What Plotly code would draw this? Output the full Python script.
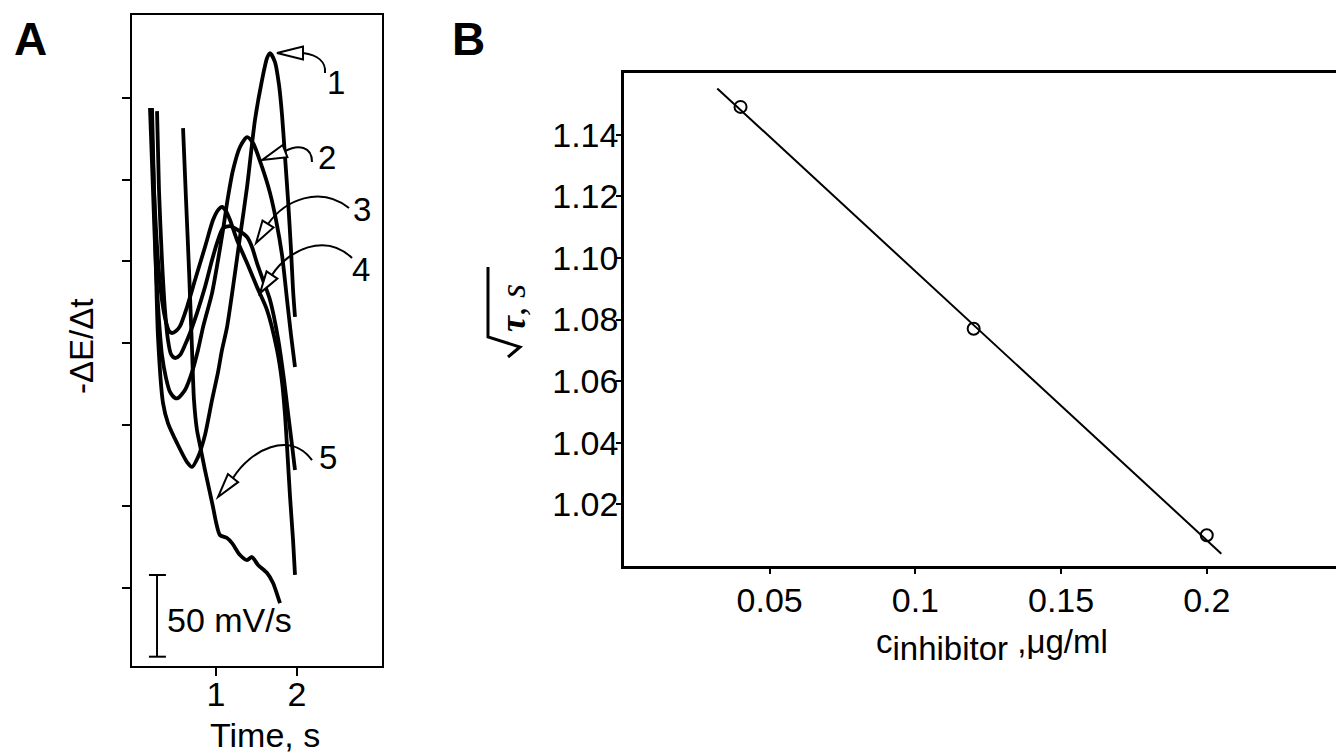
import math
import plotly.graph_objects as go

# page body has an 8px default margin: draw a slightly smaller figure and shift all positions
OFF = 8
FW, FH = 1344 - OFF, 753 - OFF

# ---------------- data ----------------
# Panel A: derivative chronopotentiograms, time (s) vs -dE/dt (mV/s)
curve1_t = [0.21, 0.235, 0.259, 0.284, 0.346, 0.407, 0.519, 0.642, 0.704, 0.778, 0.864, 0.951, 1.025, 1.074,
            1.136, 1.21, 1.296, 1.383, 1.481, 1.568, 1.630, 1.667, 1.728, 1.778, 1.815, 1.852, 1.889, 1.926,
            1.951, 1.975]
curve1_v = [293.8, 243.6, 194.6, 153.6, 113.2, 101.0, 88.7, 77.1, 74.1, 80.2, 93.6, 115.1, 132.2, 145.7,
            159.7, 184.2, 214.8, 245.4, 286.4, 310.9, 324.4, 327.4, 321.9, 307.8, 289.5, 263.8, 237.5, 206.9,
            182.4, 165.9]

curve2_t = [0.185, 0.222, 0.259, 0.296, 0.333, 0.383, 0.432, 0.494, 0.531, 0.617, 0.704, 0.778, 0.840, 0.951,
            1.025, 1.086, 1.148, 1.21, 1.296, 1.383, 1.457, 1.568, 1.667, 1.741, 1.815, 1.877, 1.926, 1.975]
curve2_v = [293.8, 243.6, 194.6, 164.0, 142.6, 128.5, 120.0, 116.3, 116.3, 121.2, 132.2, 145.7, 159.7, 180.5,
            200.7, 219.0, 239.3, 255.8, 269.9, 276.0, 272.3, 257.7, 241.7, 225.2, 203.8, 176.3, 154.8, 135.3]

curve3_t = [0.198, 0.235, 0.284, 0.333, 0.383, 0.420, 0.457, 0.506, 0.556, 0.642, 0.741, 0.864, 0.963, 1.025,
            1.074, 1.123, 1.173, 1.259, 1.383, 1.506, 1.630, 1.753, 1.815, 1.852, 1.877, 1.914, 1.951, 1.975]
curve3_v = [293.1, 243.6, 200.7, 176.3, 162.8, 157.3, 156.1, 157.3, 160.3, 172.0, 188.5, 208.7, 225.2, 231.3,
            233.2, 230.7, 225.2, 213.0, 198.9, 184.2, 170.1, 145.7, 126.1, 105.9, 86.3, 55.7, 29.4, 8.0]

curve4_t = [0.272, 0.296, 0.333, 0.370, 0.407, 0.444, 0.494, 0.556, 0.617, 0.679, 0.765, 0.864, 0.951, 1.012,
            1.086, 1.173, 1.272, 1.383, 1.444, 1.506, 1.580, 1.667, 1.765, 1.840, 1.889, 1.938, 1.975]
curve4_v = [291.9, 243.6, 200.7, 170.1, 151.8, 143.2, 140.8, 142.6, 148.7, 156.1, 168.3, 184.2, 200.7, 211.1,
            220.3, 221.5, 219.0, 214.8, 208.7, 198.9, 188.5, 176.3, 153.0, 127.3, 107.1, 87.5, 72.2]

curve5_t = [0.593, 0.630, 0.667, 0.704, 0.728, 0.765, 0.802, 0.864, 0.963, 1.00, 1.049, 1.136, 1.198, 1.296,
            1.383, 1.444, 1.519, 1.630, 1.704, 1.765, 1.790]
curve5_v = [281.5, 237.5, 194.6, 145.7, 115.1, 96.7, 87.5, 72.2, 49.6, 40.4, 32.4, 30.6, 27.5, 20.2,
            17.1, 19.0, 14.1, 9.2, 3.1, -5.5, -9.2]

curves_t = [curve1_t, curve2_t, curve3_t, curve4_t, curve5_t]
curves_v = [curve1_v, curve2_v, curve3_v, curve4_v, curve5_v]
curve_labels = ["1", "2", "3", "4", "5"]

# Panel B: sqrt(tau) vs inhibitor concentration
c_inhibitor = [0.04, 0.12, 0.20]
sqrt_tau = [1.149, 1.077, 1.010]
fit_c = [0.032, 0.205]
fit_sqrt_tau = [1.155, 1.004]

# Ticks
a_xticks = [1, 2]
a_xticktext = ["1", "2"]
a_yticks = [0, 50, 100, 150, 200, 250, 300]
b_xticks = [0.05, 0.1, 0.15, 0.2]
b_xticktext = ["0.05", "0.1", "0.15", "0.2"]
b_yticks = [1.02, 1.04, 1.06, 1.08, 1.10, 1.12, 1.14]
b_yticktext = ["1.02", "1.04", "1.06", "1.08", "1.10", "1.12", "1.14"]

# Curve-number labels and their curved arrows (panel A data coords)
label_pos = [(2.481, 309.1), (2.370, 263.2), (2.802, 231.9), (2.790, 195.2), (2.383, 79.6)]
# each: tip, base centre of head, control 1, control 2, end (near label)
arrows = [
    [(1.753, 327.4), (2.074, 327.4), (2.259, 326.2), (2.358, 321.9), (2.346, 315.2)],
    [(1.568, 261.9), (1.852, 267.4), (2.012, 271.7), (2.185, 270.5), (2.185, 260.7)],
    [(1.494, 211.1), (1.642, 222.8), (1.852, 237.5), (2.284, 246.6), (2.642, 232.6)],
    [(1.543, 180.5), (1.691, 191.6), (1.889, 206.9), (2.346, 217.9), (2.679, 202.0)],
    [(1.025, 55.7), (1.210, 67.3), (1.420, 84.5), (1.914, 96.7), (2.185, 78.3)],
]
scale_bar = {"t": 0.272, "v0": -42.0, "len": 50.0, "label": "50 mV/s"}


# ---------------- geometry (reference pixel positions -> paper) ----------------
def fx(px):
    return (px - OFF) / FW


def fy(py):
    return 1 - (py - OFF) / FH


A_X = [fx(132), fx(382)]
A_Y = [fy(666), fy(15)]
A_XR = [-0.037, 3.049]
A_YR = [-47.7, 350.7]
B_X = [fx(624), 1.0]
B_Y = [fy(566), fy(73)]
B_XR = [0.0, 0.2471]
B_YR = [1.0, 1.16]

FONT = "Liberation Sans, Arial, sans-serif"


def a_px(t, v):
    x0, x1 = 132, 382
    ytop, ybot = 15, 666
    px = x0 + (t - A_XR[0]) / (A_XR[1] - A_XR[0]) * (x1 - x0)
    py = ybot - (v - A_YR[0]) / (A_YR[1] - A_YR[0]) * (ybot - ytop)
    return px, py


def paper(px, py):
    return fx(px), fy(py)


fig = go.Figure()

for t, v in zip(curves_t, curves_v):
    fig.add_trace(go.Scatter(x=t, y=v, mode="lines", xaxis="x", yaxis="y",
                             line=dict(color="black", width=3.8, shape="spline", smoothing=0.7),
                             showlegend=False, hoverinfo="skip"))

fig.add_trace(go.Scatter(x=fit_c, y=fit_sqrt_tau, mode="lines", xaxis="x2", yaxis="y2",
                         line=dict(color="black", width=2), showlegend=False))
fig.add_trace(go.Scatter(x=c_inhibitor, y=sqrt_tau, mode="markers", xaxis="x2", yaxis="y2",
                         marker=dict(symbol="circle-open", size=12, color="black", line=dict(width=2)),
                         showlegend=False))

shapes = []
annotations = []

# curved arrows with open heads
for (tip, base, c1, c2, end) in arrows:
    T = a_px(*tip)
    B = a_px(*base)
    C1 = a_px(*c1)
    C2 = a_px(*c2)
    E = a_px(*end)
    dx, dy = B[0] - T[0], B[1] - T[1]
    L = math.hypot(dx, dy)
    ux, uy = dx / L, dy / L
    hw = 6.5
    P1 = (B[0] - uy * hw, B[1] + ux * hw)
    P2 = (B[0] + uy * hw, B[1] - ux * hw)
    pts = [paper(*p) for p in (B, C1, C2, E)]
    shapes.append(dict(type="path", xref="paper", yref="paper",
                       path="M {:.5f},{:.5f} C {:.5f},{:.5f} {:.5f},{:.5f} {:.5f},{:.5f}".format(
                           pts[0][0], pts[0][1], pts[1][0], pts[1][1], pts[2][0], pts[2][1], pts[3][0], pts[3][1]),
                       line=dict(color="black", width=2)))
    tri = [paper(*p) for p in (T, P1, P2)]
    shapes.append(dict(type="path", xref="paper", yref="paper",
                       path="M {:.5f},{:.5f} L {:.5f},{:.5f} L {:.5f},{:.5f} Z".format(
                           tri[0][0], tri[0][1], tri[1][0], tri[1][1], tri[2][0], tri[2][1]),
                       fillcolor="white", line=dict(color="black", width=2)))

for lab, (t, v) in zip(curve_labels, label_pos):
    annotations.append(dict(x=t, y=v, xref="x", yref="y", text=lab, showarrow=False,
                            xanchor="center", yanchor="middle",
                            font=dict(family=FONT, size=33, color="black")))

# scale bar
sb_t, sb_v0, sb_len = scale_bar["t"], scale_bar["v0"], scale_bar["len"]
shapes.append(dict(type="line", xref="x", yref="y", x0=sb_t, x1=sb_t, y0=sb_v0, y1=sb_v0 + sb_len,
                   line=dict(color="black", width=2)))
for vv in (sb_v0, sb_v0 + sb_len):
    shapes.append(dict(type="line", xref="x", yref="y", x0=sb_t - 0.1, x1=sb_t + 0.11, y0=vv, y1=vv,
                       line=dict(color="black", width=2)))
annotations.append(dict(x=sb_t + 0.1, y=sb_v0 + 0.45 * sb_len, xref="x", yref="y", text=scale_bar["label"],
                        showarrow=False, xanchor="left", yanchor="middle",
                        font=dict(family=FONT, size=34, color="black")))


def txt(px, py, text, size, angle=0, family=FONT):
    return dict(x=fx(px), y=fy(py), xref="paper", yref="paper", text=text, textangle=angle,
                showarrow=False, xanchor="center", yanchor="middle",
                font=dict(family=family, size=size, color="black"))


# panel letters
annotations.append(txt(30, 39, "<b>A</b>", 46))
annotations.append(txt(468, 39, "<b>B</b>", 46))

# axis titles
annotations.append(txt(81, 347, "-ΔE/Δt", 33, angle=-90))
annotations.append(txt(265, 735, "Time, s", 34))
annotations.append(txt(992, 645, "c<sub><span style='font-size:33px'>inhibitor</span></sub> ,μg/ml", 33))
annotations.append(txt(513, 308, "<i><b>τ</b>, s</i>", 36, angle=-90,
                       family="Liberation Serif, Times New Roman, serif"))
# radical sign for the sqrt(tau) title
rad = [paper(488, 267), paper(488, 337), paper(520, 347), paper(508, 357)]
shapes.append(dict(type="path", xref="paper", yref="paper",
                   path="M {:.5f},{:.5f} L {:.5f},{:.5f} L {:.5f},{:.5f} L {:.5f},{:.5f}".format(
                       rad[0][0], rad[0][1], rad[1][0], rad[1][1], rad[2][0], rad[2][1], rad[3][0], rad[3][1]),
                   line=dict(color="black", width=3)))

axis_common = dict(showgrid=False, zeroline=False, showline=True, linecolor="black",
                   ticks="outside", tickcolor="black",
                   tickfont=dict(family=FONT, size=34, color="black"))

fig.update_layout(
    width=FW, height=FH, autosize=False,
    margin=dict(l=0, r=0, t=0, b=0),
    paper_bgcolor="white", plot_bgcolor="white",
    showlegend=False,
    xaxis=dict(domain=A_X, range=A_XR, anchor="y", mirror=True, linewidth=2, ticklen=8, tickwidth=2,
               tickmode="array", tickvals=a_xticks, ticktext=a_xticktext, ticklabelstandoff=-11,
               **axis_common),
    yaxis=dict(domain=A_Y, range=A_YR, anchor="x", mirror=True, linewidth=2, ticklen=8, tickwidth=2,
               tickmode="array", tickvals=a_yticks, showticklabels=False, **axis_common),
    xaxis2=dict(domain=B_X, range=B_XR, anchor="y2", mirror=True, linewidth=2.5, ticklen=5, tickwidth=2,
                tickmode="array", tickvals=b_xticks, ticktext=b_xticktext, ticklabelstandoff=-3,
                **axis_common),
    yaxis2=dict(domain=B_Y, range=B_YR, anchor="x2", mirror=False, linewidth=2.5, ticklen=5, tickwidth=2,
                tickmode="array", tickvals=b_yticks, ticktext=b_yticktext, ticklabelstandoff=-9,
                **axis_common),
    shapes=shapes,
    annotations=annotations,
)

fig.write_html("out.html")
